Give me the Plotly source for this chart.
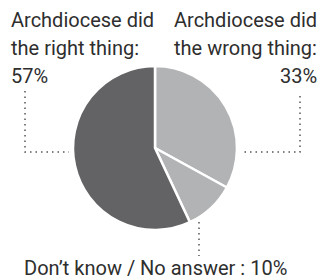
import plotly.graph_objects as go

# Data
labels = ["Archdiocese did the wrong thing", "Don’t know / No answer", "Archdiocese did the right thing"]
values = [33, 10, 57]
colors = ["#b2b3b5", "#b2b3b5", "#636365"]

W, H = 320, 280
cx, cy, r = 155, 148, 82  # pixel geometry (top-left origin)

def px(x):
    return x / W

def py(y):
    return 1 - y / H

fig = go.Figure(go.Pie(
    labels=labels,
    values=values,
    sort=False,
    direction="clockwise",
    rotation=0,
    marker=dict(colors=colors, line=dict(color="white", width=2.5)),
    textinfo="none",
    hoverinfo="label+percent",
    showlegend=False,
    domain=dict(x=[px(cx - r), px(cx + r)], y=[py(cy + r), py(cy - r)]),
))

FS = 20
font = dict(family="Roboto, sans-serif", size=FS, color="#2e2e2e")
MID = 7  # baseline -> middle offset

left_lines = ["Archdiocese did", "the right thing:", "%d%%" % values[2]]
right_lines = ["Archdiocese did", "the wrong thing:", "%d%%" % values[0]]
bottom_text = "%s : %d%%" % (labels[1], values[1])
baselines = [27, 55, 83]

annotations = []
for t, b in zip(left_lines, baselines):
    annotations.append(dict(text=t, x=px(9), y=py(b - MID), xref="paper", yref="paper",
                            xanchor="left", yanchor="middle", showarrow=False, font=font))
for t, b in zip(right_lines, baselines):
    annotations.append(dict(text=t, x=px(319), y=py(b - MID), xref="paper", yref="paper",
                            xanchor="right", yanchor="middle", showarrow=False, font=font))
annotations.append(dict(text=bottom_text, x=px(155), y=py(275 - MID), xref="paper", yref="paper",
                        xanchor="center", yanchor="middle", showarrow=False, font=font))

dot = dict(color="#555555", width=1.5, dash="1.5px,4px")
shapes = [
    dict(type="path", xref="paper", yref="paper",
         path="M %f %f L %f %f L %f %f" % (px(25), py(91), px(25), py(152), px(69), py(152)), line=dot),
    dict(type="path", xref="paper", yref="paper",
         path="M %f %f L %f %f L %f %f" % (px(300), py(96), px(300), py(152), px(243), py(152)), line=dot),
    dict(type="line", xref="paper", yref="paper",
         x0=px(199), y0=py(222), x1=px(199), y1=py(256), line=dot),
]

fig.update_layout(
    width=W, height=H,
    margin=dict(l=0, r=0, t=0, b=0),
    paper_bgcolor="white", plot_bgcolor="white",
    annotations=annotations, shapes=shapes,
)

fig.write_html("out.html", config={"displayModeBar": False},
               post_script="document.body.style.margin='0';document.body.style.overflow='hidden';")
